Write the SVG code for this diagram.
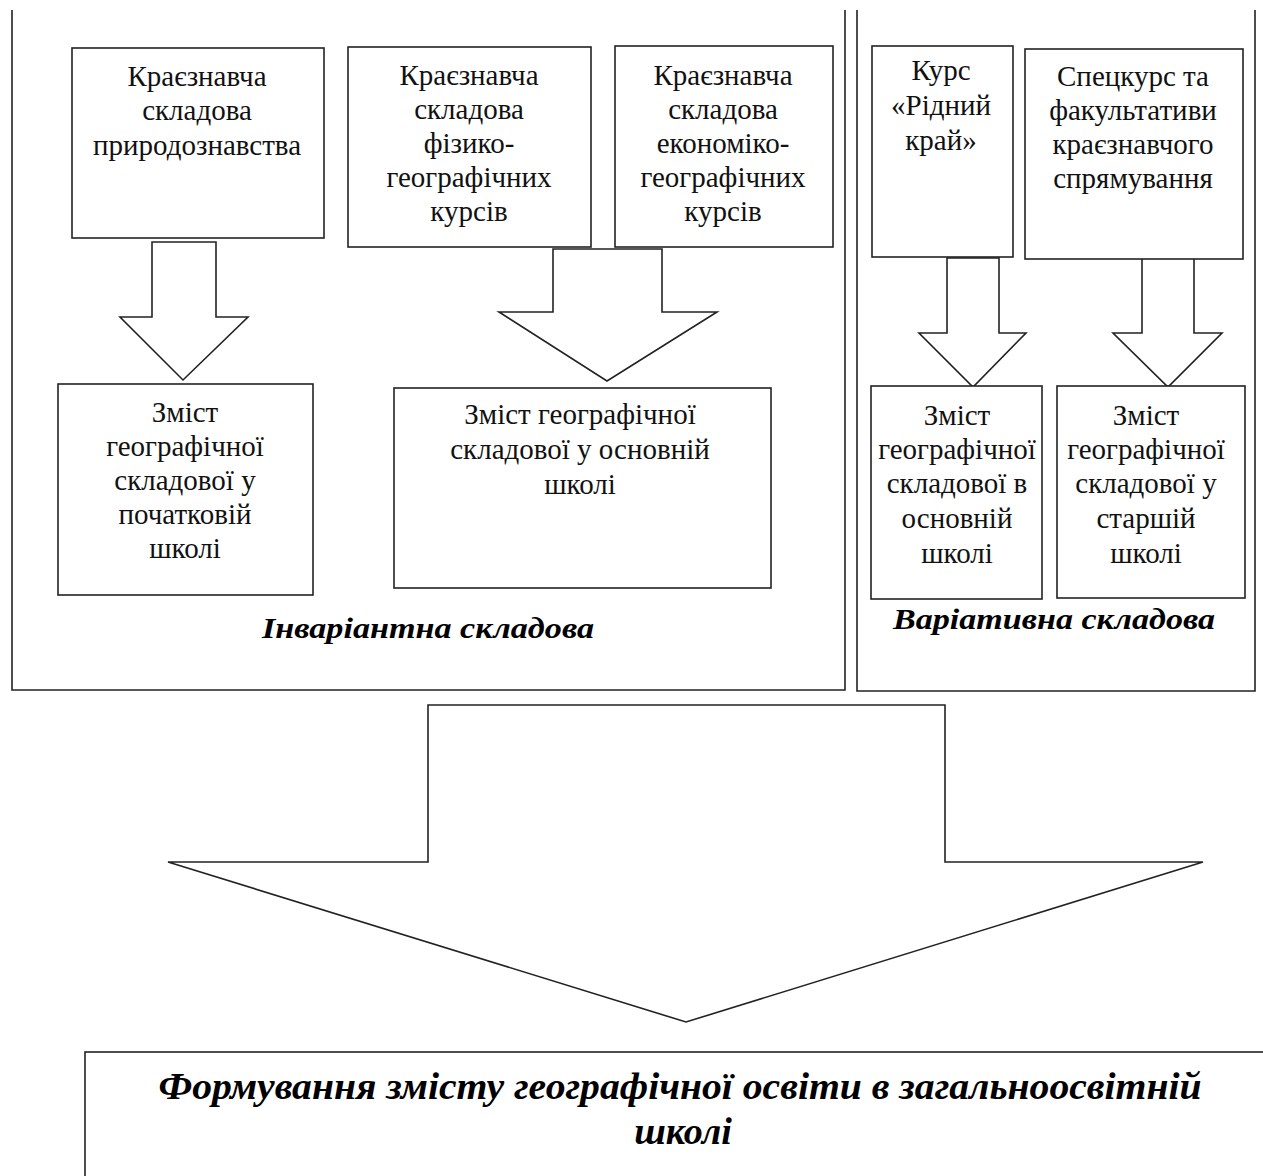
<svg xmlns="http://www.w3.org/2000/svg" width="1263" height="1176" viewBox="0 0 1263 1176">
<style>
.frame{fill:none;stroke:#222;stroke-width:1.6}
.box{fill:#fff;stroke:#222;stroke-width:1.6}
.arr{fill:#fff;stroke:#222;stroke-width:1.6;stroke-linejoin:miter}
.t{font-family:"Liberation Serif","Times New Roman",serif;font-size:29px;fill:#111;text-anchor:middle}
.lbl{font-family:"Liberation Serif","Times New Roman",serif;font-size:30px;font-weight:bold;font-style:italic;fill:#000;text-anchor:middle}
.ttl{font-family:"Liberation Serif","Times New Roman",serif;font-size:38px;font-weight:bold;font-style:italic;fill:#000;text-anchor:middle}
</style>
<rect width="1263" height="1176" fill="#fff"/>
<g id="container-invariant">
<path class="frame" d="M12,10 V690 H845 V10"/>
<text class="lbl" x="428" y="638" textLength="332" lengthAdjust="spacingAndGlyphs">Інваріантна складова</text>
</g>
<g id="container-variative">
<path class="frame" d="M857,10 V691 H1255 V10"/>
<text class="lbl" x="1054" y="629" textLength="322" lengthAdjust="spacingAndGlyphs">Варіативна складова</text>
</g>
<g id="connectors">
<polygon class="arr" points="152,242 216,242 216,317 248,317 183,380 120,317 152,317"/>
<polygon class="arr" points="553,249 662,249 662,312 717,312 607,381 499,312 553,312"/>
<polygon class="arr" points="947,258 999,258 999,333 1026,333 973,387 919,333 947,333"/>
<polygon class="arr" points="1142,258 1194,258 1194,333 1222,333 1168,387 1113,333 1142,333"/>
<polygon class="arr" points="428,705 945,705 945,862 1203,862 686,1022 168,862 428,862"/>
</g>
<g id="n1">
<rect class="box" x="72" y="48" width="252" height="190"/>
<text class="t"><tspan x="197" y="86">Краєзнавча</tspan><tspan x="197" y="120">складова</tspan><tspan x="197" y="155">природознавства</tspan></text>
</g>
<g id="n2">
<rect class="box" x="348" y="47" width="243" height="200"/>
<text class="t"><tspan x="469" y="85">Краєзнавча</tspan><tspan x="469" y="119">складова</tspan><tspan x="469" y="153">фізико-</tspan><tspan x="469" y="187">географічних</tspan><tspan x="469" y="221">курсів</tspan></text>
</g>
<g id="n3">
<rect class="box" x="615" y="46" width="218" height="201"/>
<text class="t"><tspan x="723" y="85">Краєзнавча</tspan><tspan x="723" y="119">складова</tspan><tspan x="723" y="153">економіко-</tspan><tspan x="723" y="187">географічних</tspan><tspan x="723" y="221">курсів</tspan></text>
</g>
<g id="n4">
<rect class="box" x="872" y="46" width="141" height="211"/>
<text class="t"><tspan x="941" y="80">Курс</tspan><tspan x="941" y="115">«Рідний</tspan><tspan x="941" y="150">край»</tspan></text>
</g>
<g id="n5">
<rect class="box" x="1025" y="49" width="218" height="210"/>
<text class="t"><tspan x="1133" y="86">Спецкурс та</tspan><tspan x="1133" y="120">факультативи</tspan><tspan x="1133" y="154">краєзнавчого</tspan><tspan x="1133" y="188">спрямування</tspan></text>
</g>
<g id="n6">
<rect class="box" x="58" y="384" width="255" height="211"/>
<text class="t"><tspan x="185" y="422">Зміст</tspan><tspan x="185" y="456">географічної</tspan><tspan x="185" y="490">складової у</tspan><tspan x="185" y="524">початковій</tspan><tspan x="185" y="558">школі</tspan></text>
</g>
<g id="n7">
<rect class="box" x="394" y="388" width="377" height="200"/>
<text class="t"><tspan x="580" y="424">Зміст географічної</tspan><tspan x="580" y="459">складової у основній</tspan><tspan x="580" y="494">школі</tspan></text>
</g>
<g id="n8">
<rect class="box" x="871" y="386" width="171" height="213"/>
<text class="t"><tspan x="957" y="425">Зміст</tspan><tspan x="957" y="459">географічної</tspan><tspan x="957" y="493">складової в</tspan><tspan x="957" y="528">основній</tspan><tspan x="957" y="563">школі</tspan></text>
</g>
<g id="n9">
<rect class="box" x="1057" y="386" width="188" height="212"/>
<text class="t"><tspan x="1146" y="425">Зміст</tspan><tspan x="1146" y="459">географічної</tspan><tspan x="1146" y="493">складової у</tspan><tspan x="1146" y="528">старшій</tspan><tspan x="1146" y="563">школі</tspan></text>
</g>
<g id="n10">
<rect class="box" x="85" y="1052" width="1200" height="200"/>
<text class="ttl" x="680" y="1099" textLength="1043" lengthAdjust="spacingAndGlyphs">Формування змісту  географічної освіти в загальноосвітній</text>
<text class="ttl" x="683" y="1144">школі</text>
</g>
</svg>
